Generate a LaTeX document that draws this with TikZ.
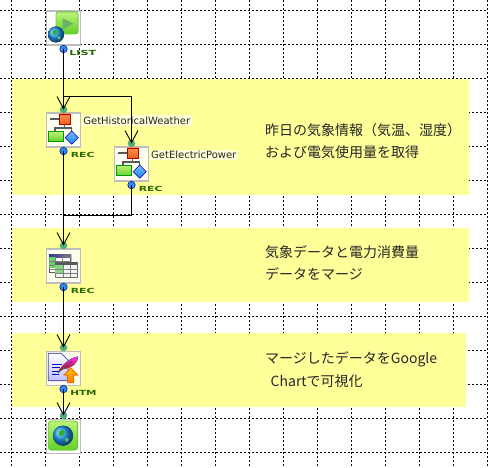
\documentclass[tikz,border=0pt]{standalone}
\usepackage{fontspec}
\usepackage{graphicx}
\usetikzlibrary{arrows.meta,shapes.geometric}
\newfontfamily\jpfont{Noto Sans CJK JP}
\newfontfamily\lblfont{DejaVu Sans}
\definecolor{panelc}{HTML}{FFFF99}
\definecolor{boxc}{HTML}{BDBDBD}
\definecolor{portblue}{HTML}{2E8BF0}
\definecolor{portgreen}{HTML}{4FAE78}
\definecolor{typec}{HTML}{2A6A00}
\definecolor{greenlight}{HTML}{BDF27A}
\definecolor{greendark}{HTML}{62D02A}
\definecolor{orangec}{HTML}{F0601A}
\definecolor{bluec}{HTML}{1E88F0}
\definecolor{globec}{HTML}{1E9BF5}
\tikzset{
  x=1pt,y=-1pt,
  gridline/.style={black,line width=0.9pt,dash pattern=on 2pt off 2pt},
  panel/.style={fill=panelc,draw=none},
  iconbox/.style={draw=boxc,line width=1.1pt,fill=#1,minimum width=34pt,minimum height=34pt,inner sep=0pt,anchor=north west},
  outport/.style={circle,draw=blue!60!black,line width=0.5pt,fill=portblue,minimum size=7.5pt,inner sep=0pt},
  inport/.style={circle,fill=portgreen,minimum size=7.5pt,inner sep=0pt},
  link/.style={black,line width=1.2pt},
  flow/.style={link,-{Straight Barb[length=12pt,width=13pt,line width=0.9pt]}},
  typelabel/.style={font=\lblfont\bfseries\fontsize{7}{7}\selectfont,text=typec,inner sep=0pt,anchor=west},
  actlabel/.style={font=\lblfont\fontsize{10}{12}\selectfont,fill=#1,inner sep=1.5pt,anchor=west,text=black!85},
  note/.style={font=\jpfont\fontsize{14}{14}\selectfont,inner sep=0pt,anchor=west,text=black!85},
  globe/.pic={
    \fill[ball color=globec,shading=ball] (0,0) circle[radius=#1*1pt];
    \fill[green!60!black!80] (-0.45*#1,-0.45*#1) .. controls (0.0*#1,-0.75*#1) and (0.35*#1,-0.45*#1) .. (0.1*#1,-0.1*#1) .. controls (-0.1*#1,0.2*#1) and (-0.55*#1,0.1*#1) .. cycle;
    \fill[green!60!black!60] (0.2*#1,0.3*#1) .. controls (0.5*#1,0.15*#1) and (0.7*#1,0.3*#1) .. (0.45*#1,0.6*#1) .. controls (0.3*#1,0.65*#1) and (0.15*#1,0.55*#1) .. cycle;
  },
  flowicon/.pic={
    \draw[gray!70!black,line width=1.4pt] (5,7)--(14,7) (19.7,12.7)--(19.7,16) (10,19)--(10,16)--(26.7,16)--(26.7,19);
    \fill[top color=orange!70!red!70,bottom color=orangec,draw=red!70!black,line width=0.6pt] (14.3,2) rectangle (25,12.7);
    \fill[top color=greenlight,bottom color=greendark,draw=green!60!black,line width=0.6pt] (3,19.3) rectangle (18,29.7);
    \fill[top color=bluec!60,bottom color=bluec,draw=blue!80!black,line width=0.5pt] (26.7,19) -- (33.2,25.7) -- (26.7,32.2) -- (20.2,25.7) -- cycle;
  },
  tableicon/.pic={
    \fill[gray!50] (5,7.3) rectangle (26.7,25);
    \fill[white,draw=gray!70!black,line width=0.7pt] (4,6.3) rectangle (25.7,24);
    \fill[left color=blue!50!black!80,right color=gray] (4,6.3) rectangle (25.7,9.3);
    \fill[green!70!black!60] (4,9.3) rectangle (10,20);
    \draw[gray,line width=0.5pt] (10,9.3)--(10,24) (17,9.3)--(17,24) (4,13)--(25.7,13) (4,17)--(25.7,17) (4,21)--(25.7,21);
    \fill[gray!50,opacity=.8] (11.3,15.3) rectangle (33,30);
    \fill[white,opacity=.8,draw=gray!70!black,line width=0.7pt] (10.3,14.3) rectangle (32,29);
    \fill[gray!70!black] (10.3,14.3) rectangle (32,17);
    \fill[green!70!black!50] (10.3,17) rectangle (18,25);
    \draw[gray,line width=0.5pt] (18,17)--(18,29) (25,17)--(25,29) (10.3,21)--(32,21) (10.3,25)--(32,25);
  },
  writericon/.pic={
    \fill[top color=white,bottom color=blue!25,draw=blue!45!gray,line width=0.7pt] (3.3,3.3) -- (16,3.3) -- (23,10) -- (23,30.7) -- (3.3,30.7) -- cycle;
    \draw[blue!70!black,line width=0.9pt] (7,14)--(17,14) (7,17.5)--(15,17.5) (7,21)--(13,21) (7,24.5)--(14,24.5);
    \fill[top color=magenta!80,bottom color=red!70!black,draw=black!60,line width=0.3pt] (13,22) .. controls (19,13) and (25,8) .. (33,6.5) .. controls (33,13) and (27,18) .. (18,19) -- cycle;
    \draw[black!70,line width=0.7pt] (13,23) -- (27,11);
    \fill[top color=orange!50!yellow,bottom color=orange,draw=orange!80!red,line width=0.8pt] (25.7,18) -- (32.7,25) -- (28.7,25) -- (28.7,32.7) -- (22.7,32.7) -- (22.7,25) -- (19,25) -- cycle;
  },
  starticon/.pic={
    \fill[rounded corners=2.5pt,top color=greenlight,bottom color=greendark,draw=greendark,line width=0.7pt] (11,2) rectangle (33,24);
    \fill[green!50!black!60] (17.7,8.5) -- (28.5,13.5) -- (17.7,19.5) -- cycle;
    \pic at (11,24.5) {globe=8};
  },
  endicon/.pic={
    \fill[rounded corners=3pt,top color=greenlight,bottom color=greendark,draw=greendark,line width=0.7pt] (3.3,3) rectangle (32.7,32);
    \pic at (18,17.7) {globe=10};
  }
}
\begin{document}
\begin{tikzpicture}
\useasboundingbox (0,0) rectangle (488,468);
\fill[white] (0,0) rectangle (488,468);
% grid
\foreach \gx in {11.5,45.5,...,487.5} \draw[gridline] (\gx,0) -- (\gx,468);
\foreach \gy in {10.5,44.5,...,452.5} \draw[gridline] (0,\gy) -- (488,\gy);
% panels
\fill[panel] (12,79) rectangle (469,195.5);
\fill[panel] (12,228) rectangle (469,302);
\fill[panel] (12,333) rectangle (466,407);
% activity boxes
\node[iconbox=white] (start) at (45.5,10.5) {};
\pic at (45,10) {starticon};
\node[iconbox=white!85!panelc] (ghw) at (45.5,112.5) {};
\pic at (45,112) {flowicon};
\node[iconbox=white!85!panelc] (gep) at (113.5,146.5) {};
\pic at (113,146) {flowicon};
\node[iconbox=white!85!panelc] (merge) at (45.5,248.5) {};
\pic at (45,248) {tableicon};
\node[iconbox=white!85!panelc] (writer) at (45.5,350.5) {};
\pic at (45,350) {writericon};
\node[iconbox=white] (finish) at (45.5,418.5) {};
\pic at (45,418) {endicon};
% ports
\node[outport] (startout) at (63.5,49) {};
\node[inport] (ghwin) at (63.5,109.5) {};
\node[outport] (ghwout) at (63.5,151) {};
\node[inport] (gepin) at (131.5,143.5) {};
\node[outport] (gepout) at (131.5,185) {};
\node[inport] (mergein) at (63.5,245.5) {};
\node[outport] (mergeout) at (63.5,287) {};
\node[inport] (writerin) at (63.5,347.5) {};
\node[outport] (writerout) at (63.5,389) {};
\node[inport] (finishin) at (63.5,415.5) {};
% type labels
\node[typelabel,xscale=1.6,transform shape] (t1) at (69,53) {LIST};
\node[typelabel,xscale=1.55,transform shape] (t2) at (70.5,155) {REC};
\node[typelabel,xscale=1.55,transform shape] (t3) at (138.5,189) {REC};
\node[typelabel,xscale=1.55,transform shape] (t4) at (70.5,291) {REC};
\node[typelabel,xscale=1.5,transform shape] (t5) at (70,393) {HTM};
% activity labels
\node[actlabel=white!60!panelc] (l1) at (81.7,120.8) {GetHistoricalWeather};
\node[actlabel=white!60!panelc] (l2) at (149.5,155) {GetElectricPower};
% notes
\node[note] (n1a) at (265,130) {昨日の気象情報（気温、湿度）};
\node[note] (n1b) at (265,152) {および電気使用量を取得};
\node[note] (n2a) at (265,252) {気象データと電力消費量};
\node[note] (n2b) at (265,274) {データをマージ};
\node[note] (n3a) at (265,359) {マージしたデータをGoogle};
\node[note] (n3b) at (270.5,381) {Chartで可視化};
% connectors
\coordinate (split) at (63.5,96.5);
\coordinate (join) at (63.5,215.5);
\draw[flow] (startout.center) -- (ghwin.center);
\draw[flow] (split) -| (gepin.center);
\draw[flow] (ghwout.center) -- (mergein.center);
\draw[link] (gepout.center) |- (join);
\draw[flow] (mergeout.center) -- (writerin.center);
\draw[flow] (writerout.center) -- (finishin.center);
\end{tikzpicture}
\end{document}
